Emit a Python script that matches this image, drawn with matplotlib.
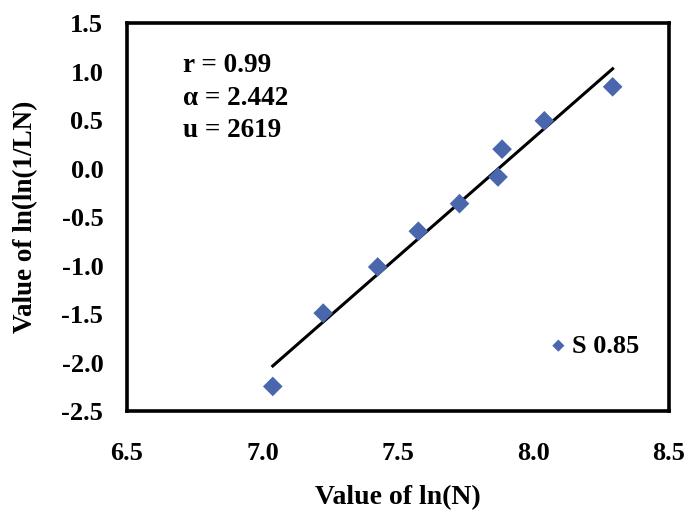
import numpy as np
import matplotlib
matplotlib.use("Agg")
import matplotlib.pyplot as plt

# Weibull plot data
ln_n = [7.038, 7.224, 7.425, 7.575, 7.727, 7.869, 7.884, 8.040, 8.292]
ln_ln = [-2.242, -1.487, -1.012, -0.644, -0.360, -0.085, 0.201, 0.493, 0.843]
series_label = "S 0.85"
stats_lines = ["r = 0.99", "\u03b1 = 2.442", "u = 2619"]
x_ticks = [6.5, 7.0, 7.5, 8.0, 8.5]
y_ticks = [-2.5, -2.0, -1.5, -1.0, -0.5, 0.0, 0.5, 1.0, 1.5]

plt.rcParams["font.family"] = ["Liberation Serif", "DejaVu Serif"]
plt.rcParams["font.weight"] = "bold"

fig = plt.figure(figsize=(6.9, 5.18), dpi=100)
ax = fig.add_axes([0.184, 0.2056, 0.7856, 0.75])

x = np.array(ln_n)
y = np.array(ln_ln)

# linear fit
slope, intercept = np.polyfit(x, y, 1)
xf = np.array([x.min(), x.max()])
ax.plot(xf, slope * xf + intercept, color="black", lw=2.2, zorder=2)

ax.scatter(x, y, marker="D", s=100, color="#4A66AC", zorder=3,
           label=series_label, edgecolors="none")

ax.set_xlim(6.5, 8.5)
ax.set_ylim(-2.5, 1.5)
ax.set_xticks(x_ticks)
ax.set_yticks(y_ticks)
ax.set_xticklabels([f"{v:.1f}" for v in x_ticks])
ax.set_yticklabels([f"{v:.1f}" for v in y_ticks])
ax.tick_params(axis="x", length=0, labelsize=19, pad=22)
ax.tick_params(axis="y", length=0, labelsize=19, pad=17)

for sp in ax.spines.values():
    sp.set_linewidth(2.6)

ax.set_xlabel("Value of ln(N)", fontsize=20, fontweight="bold")
ax.set_ylabel("Value of ln(ln(1/LN)", fontsize=19.5, fontweight="bold")
ax.xaxis.set_label_coords(0.5, -0.19)
ax.yaxis.set_label_coords(-0.164, 0.5)

ax.text(0.103, 0.922, "\n".join(stats_lines), transform=ax.transAxes,
        fontsize=19.5, fontweight="bold", va="top", ha="left", linespacing=1.38)

leg = ax.legend(loc="center left", bbox_to_anchor=(0.752, 0.169), frameon=False,
                fontsize=19, handletextpad=0.0, handlelength=1.0,
                borderaxespad=0, markerscale=0.62)

fig.savefig("out.png", dpi=100)
